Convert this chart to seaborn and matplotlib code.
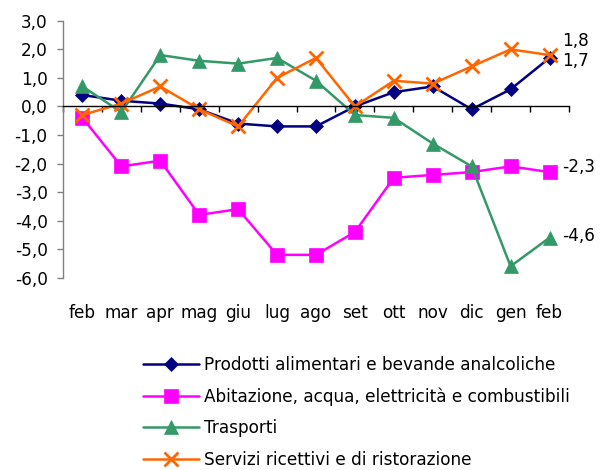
import numpy as np
import pandas as pd
import matplotlib
matplotlib.use("Agg")
import matplotlib.pyplot as plt
import seaborn as sns

mesi = ['feb', 'mar', 'apr', 'mag', 'giu', 'lug', 'ago', 'set', 'ott', 'nov', 'dic', 'gen', 'feb']

prodotti = [0.4, 0.2, 0.1, -0.1, -0.6, -0.7, -0.7, 0.0, 0.5, 0.7, -0.1, 0.6, 1.7]
abitazione = [-0.4, -2.1, -1.9, -3.8, -3.6, -5.2, -5.2, -4.4, -2.5, -2.4, -2.3, -2.1, -2.3]
trasporti = [0.7, -0.2, 1.8, 1.6, 1.5, 1.7, 0.9, -0.3, -0.4, -1.3, -2.1, -5.6, -4.6]
servizi = [-0.3, 0.1, 0.7, -0.1, -0.7, 1.0, 1.7, 0.0, 0.9, 0.8, 1.4, 2.0, 1.8]

nomi = ['Prodotti alimentari e bevande analcoliche',
        'Abitazione, acqua, elettricità e combustibili',
        'Trasporti',
        'Servizi ricettivi e di ristorazione']

y_ticks = [3, 2, 1, 0, -1, -2, -3, -4, -5, -6]

sns.set_theme(style='white')
plt.rcParams['font.family'] = ['DejaVu Sans']
plt.rcParams['text.color'] = 'black'
plt.rcParams['xtick.color'] = 'black'
plt.rcParams['ytick.color'] = 'black'
fs = 12.2

fig = plt.figure(figsize=(6.08, 4.70), dpi=100)
ax = fig.add_axes([0.1036, 0.4092, 0.8322, 0.5465])

serie = [prodotti, abitazione, trasporti, servizi]
colori = ['#000080', '#FF00FF', '#339966', '#FF6600']
marker = ['D', 's', '^', 'x']
msize = [7, 9.5, 10, 10]
# posizione etichette finali (punti)
off_y = [-2.5, 3.4, 1.2, 10]

x = np.arange(len(mesi))
for i, vals in enumerate(serie):
    sns.lineplot(x=x, y=vals, ax=ax, color=colori[i], marker=marker[i],
                 markersize=msize[i], markeredgecolor=colori[i],
                 markeredgewidth=2 if marker[i] == 'x' else 0.5,
                 linewidth=1.8, label=nomi[i])
    ax.annotate(f"{vals[-1]:.1f}".replace('.', ','), (x[-1], vals[-1]),
                xytext=(9, off_y[i]), textcoords='offset points',
                ha='left', va='center', fontsize=fs, color='black')

ax.set_xlim(-0.5, len(mesi) - 0.5)
ax.set_ylim(-6, 3)
ax.set_yticks(y_ticks)
ax.set_yticklabels([f"{v:.1f}".replace('.', ',') for v in y_ticks])
ax.tick_params(axis='y', which='major', left=True, length=4, width=1,
               color='#808080', pad=7, labelsize=fs, labelcolor='black')

for s in ['top', 'right']:
    ax.spines[s].set_visible(False)
ax.spines['left'].set_color('#808080')
ax.spines['left'].set_linewidth(1)
ax.spines['bottom'].set_position(('data', 0))
ax.spines['bottom'].set_color('black')
ax.spines['bottom'].set_linewidth(1)

ax.set_xticks(np.arange(-0.5, len(mesi), 1))
ax.tick_params(axis='x', which='major', bottom=True, direction='out', length=4,
               width=1, color='black', labelbottom=False)

sec = ax.secondary_xaxis('bottom')
sec.set_xticks(x)
sec.set_xticklabels(mesi)
sec.spines['bottom'].set_visible(False)
sec.tick_params(axis='x', length=0, pad=19, labelsize=fs, labelcolor='black')

ax.set_xlabel('')
ax.set_ylabel('')
ax.grid(False)

handles, labels = ax.get_legend_handles_labels()
ax.legend(handles, labels, loc='upper left', bbox_to_anchor=(0.235, 0.243),
          bbox_transform=fig.transFigure, frameon=False, fontsize=fs,
          handlelength=3.3, handletextpad=0.3, labelspacing=0.8,
          borderpad=0, borderaxespad=0, labelcolor='black')

fig.savefig('out.png', dpi=100)
